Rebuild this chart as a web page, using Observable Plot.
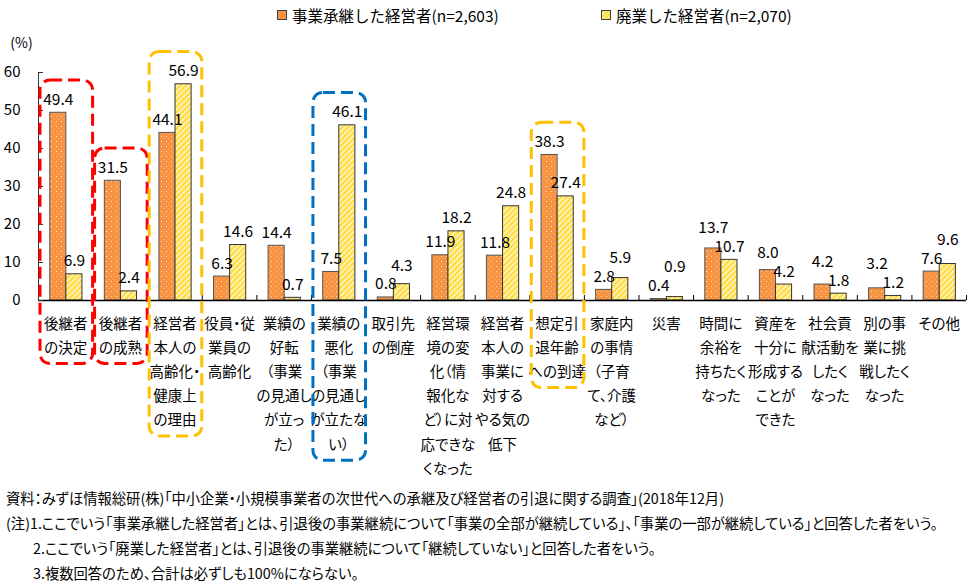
<!DOCTYPE html>
<html><head><meta charset="utf-8">
<script src="https://cdn.jsdelivr.net/npm/d3@7"></script>
<script src="https://cdn.jsdelivr.net/npm/@observablehq/plot@0.6"></script>
<style>
body{margin:0;background:#fff;font-family:'Noto Sans CJK JP',sans-serif;color:#000;width:971px;overflow:hidden;}
#legend{height:30px;position:relative;font-size:15.5px;}
.item{position:absolute;top:4px;display:flex;align-items:center;white-space:nowrap;line-height:22px;}
.sw{width:8px;height:8px;border:1px solid #404040;margin-right:5px;}
#notes{font-size:14.3px;line-height:25px;font-feature-settings:"palt";white-space:nowrap;}
#notes div{padding-left:6px;}
#notes div.ind{padding-left:33px;}
svg text{font-feature-settings:"palt";}
</style></head><body>
<div id="legend"></div><div id="chart"></div><div id="notes"></div>
<script>
// ---- data ----
const categories = [
  "後継者の決定","後継者の成熟","経営者本人の高齢化・健康上の理由","役員・従業員の高齢化",
  "業績の好転（事業の見通しが立った）","業績の悪化（事業の見通しが立たない）","取引先の倒産",
  "経営環境の変化（情報化など）に対応できなくなった","経営者本人の事業に対するやる気の低下",
  "想定引退年齢への到達","家庭内の事情（子育て、介護など）","災害","時間に余裕を持ちたくなった",
  "資産を十分に形成することができた","社会貢献活動をしたくなった","別の事業に挑戦したくなった","その他"
];
const tickLabels = [
  "後継者\nの決定","後継者\nの成熟","経営者\n本人の\n高齢化・\n健康上\nの理由","役員・従\n業員の\n高齢化",
  "業績の\n好転\n（事業\nの見通し\nが立っ\nた）","業績の\n悪化\n（事業\nの見通し\nが立たな\nい）","取引先\nの倒産",
  "経営環\n境の変\n化（情\n報化な\nど）に対\n応できな\nくなった","経営者\n本人の\n事業に\n対する\nやる気の\n低下",
  "想定引\n退年齢\nへの到達","家庭内\nの事情\n（子育\nて、介護\nなど）","災害","時間に\n余裕を\n持ちたく\nなった",
  "資産を\n十分に\n形成する\nことが\nできた","社会貢\n献活動を\nしたく\nなった","別の事\n業に挑\n戦したく\nなった","その他"
];
const successors = [49.4,31.5,44.1,6.3,14.4,7.5,0.8,11.9,11.8,38.3,2.8,0.4,13.7,8.0,4.2,3.2,7.6];
const closed     = [6.9,2.4,56.9,14.6,0.7,46.1,4.3,18.2,24.8,27.4,5.9,0.9,10.7,4.2,1.8,1.2,9.6];
const seriesNames = ["事業承継した経営者(n=2,603)","廃業した経営者(n=2,070)"];
const yTicks = [0,10,20,30,40,50,60];
const redGroup = ["後継者の決定","後継者の成熟"];
const yellowGroup = ["経営者本人の高齢化・健康上の理由","想定引退年齢への到達"];
const blueGroup = ["業績の悪化（事業の見通しが立たない）"];
const notes = [
  "資料：みずほ情報総研(株)「中小企業・小規模事業者の次世代への承継及び経営者の引退に関する調査」(2018年12月)",
  "(注)1.ここでいう「事業承継した経営者」とは、引退後の事業継続について「事業の全部が継続している」、「事業の一部が継続している」と回答した者をいう。",
  "2.ここでいう「廃業した経営者」とは、引退後の事業継続について「継続していない」と回答した者をいう。",
  "3.複数回答のため、合計は必ずしも100%にならない。"
];

// ---- layout ----
const W = 971, H = 455, mL = 38, mR = 5, mT = 42, mB = 185;
const n = categories.length;
const pxPerY = (H - mT - mB) / 60;
const pxPerX = (W - mL - mR) / n;
const LINE = 24.2, LFS = 14.5;
const ORANGE = "#F79240", YELLOW = "#FFDB3C";

const rows = categories.map((c, i) => ({i, c, label: tickLabels[i], a: successors[i], b: closed[i]}));
// keep neighbouring value labels apart vertically (as in the reference)
const minGap = 18.5 / pxPerY;
const lift = d => Math.max(0, minGap - Math.abs(d.a - d.b));
const labelA = d => d.a + (d.a >= d.b ? lift(d) : 0);
const labelB = d => d.b + (d.b > d.a ? lift(d) : 0);

const groupColor = c => redGroup.includes(c) ? "#FF0000" : yellowGroup.includes(c) ? "#FFC000" : blueGroup.includes(c) ? "#0070C0" : null;
const boxes = rows.filter(r => groupColor(r.c)).map(r => ({
  ...r, color: groupColor(r.c),
  top: Math.max(r.a, r.b) + 8.5,
  bottom: -(r.label.split("\n").length * LINE + 15) / pxPerY
}));

const defs = () => {
  const g = d3.create("svg:defs");
  const p1 = g.append("pattern").attr("id","dots").attr("patternUnits","userSpaceOnUse").attr("width",5).attr("height",5);
  p1.append("rect").attr("width",5).attr("height",5).attr("fill",ORANGE);
  p1.append("rect").attr("x",1).attr("y",1).attr("width",1).attr("height",1).attr("fill","#FFE2C4");
  p1.append("rect").attr("x",3.5).attr("y",3.5).attr("width",1).attr("height",1).attr("fill","#FBC090");
  const p2 = g.append("pattern").attr("id","hatch").attr("patternUnits","userSpaceOnUse").attr("width",4).attr("height",4).attr("patternTransform","rotate(45)");
  p2.append("rect").attr("width",4).attr("height",4).attr("fill",YELLOW);
  p2.append("rect").attr("width",1.6).attr("height",4).attr("fill","#FFF6CF");
  return g.node();
};

const font = "'Noto Sans CJK JP', sans-serif";
const chart = Plot.plot({
  width: W, height: H,
  marginLeft: mL, marginRight: mR, marginTop: mT, marginBottom: mB,
  style: {fontFamily: font, background: "#fff", overflow: "visible"},
  x: {type: "linear", domain: [0, n], axis: null},
  y: {domain: [0, 60], axis: null},
  color: {type: "identity"},
  marks: [
    defs,
    Plot.rect(rows, {x1: d => d.i + 0.215, x2: d => d.i + 0.51, y1: 0, y2: "a", fill: "url(#dots)", stroke: "#555", strokeWidth: 1}),
    Plot.rect(rows, {x1: d => d.i + 0.51, x2: d => d.i + 0.805, y1: 0, y2: "b", fill: "url(#hatch)", stroke: "#333", strokeWidth: 1}),
    Plot.ruleY([0], {x1: 0, x2: n, stroke: "#000", strokeWidth: 1.3}),
    Plot.ruleX([0], {y1: 0, y2: 60, stroke: "#333", strokeWidth: 1}),
    Plot.ruleX(d3.range(1, n + 1), {x: d => d, y1: 0, y2: 5 / pxPerY, stroke: "#000", strokeWidth: 1}),
    Plot.ruleY(yTicks, {y: d => d, x1: 0, x2: 5 / pxPerX, stroke: "#333", strokeWidth: 1}),
    Plot.text(yTicks, {x: 0, y: d => d, text: d => String(d), textAnchor: "end", dx: -18, fontSize: 15, fill: "#000"}),
    Plot.text(["(%)"], {x: 0, y: 60, text: d => d, dx: -17, dy: -29, fontSize: 14, fill: "#000"}),
    Plot.text(rows, {x: d => d.i + 0.3625, y: labelA, text: d => d.a.toFixed(1), lineAnchor: "bottom", dy: -8, fontSize: 15.5, fill: "#000"}),
    Plot.text(rows, {x: d => d.i + 0.6575, y: labelB, text: d => d.b.toFixed(1), lineAnchor: "bottom", dy: -8, fontSize: 15.5, fill: "#000"}),
    Plot.text(rows, {x: d => d.i + 0.5, y: 0, text: "label", lineAnchor: "top", dy: 11, lineHeight: LINE / LFS, fontSize: LFS, fill: "#000"}),
    Plot.rect(boxes, {x1: "i", x2: d => d.i + 1, y1: "bottom", y2: "top", fill: "none", stroke: "color", strokeWidth: 3, strokeDasharray: "12,6", rx: 10, insetLeft: 2, insetRight: 0})
  ]
});
document.getElementById("chart").appendChild(chart);

// legend
const legend = d3.select("#legend");
const items = [
  {name: seriesNames[0], left: 277, bg: ORANGE},
  {name: seriesNames[1], left: 601, bg: `repeating-linear-gradient(135deg, ${YELLOW} 0 2px, #FFF6CF 2px 3px)`}
];
items.forEach(it => {
  const d = legend.append("div").attr("class", "item").style("left", it.left + "px");
  d.append("div").attr("class", "sw").style("background", it.bg);
  d.append("span").text(it.name);
});
// notes
const nd = d3.select("#notes");
notes.forEach((t, i) => nd.append("div").attr("class", i >= 2 ? "ind" : null).text(t));
</script>
</body></html>
